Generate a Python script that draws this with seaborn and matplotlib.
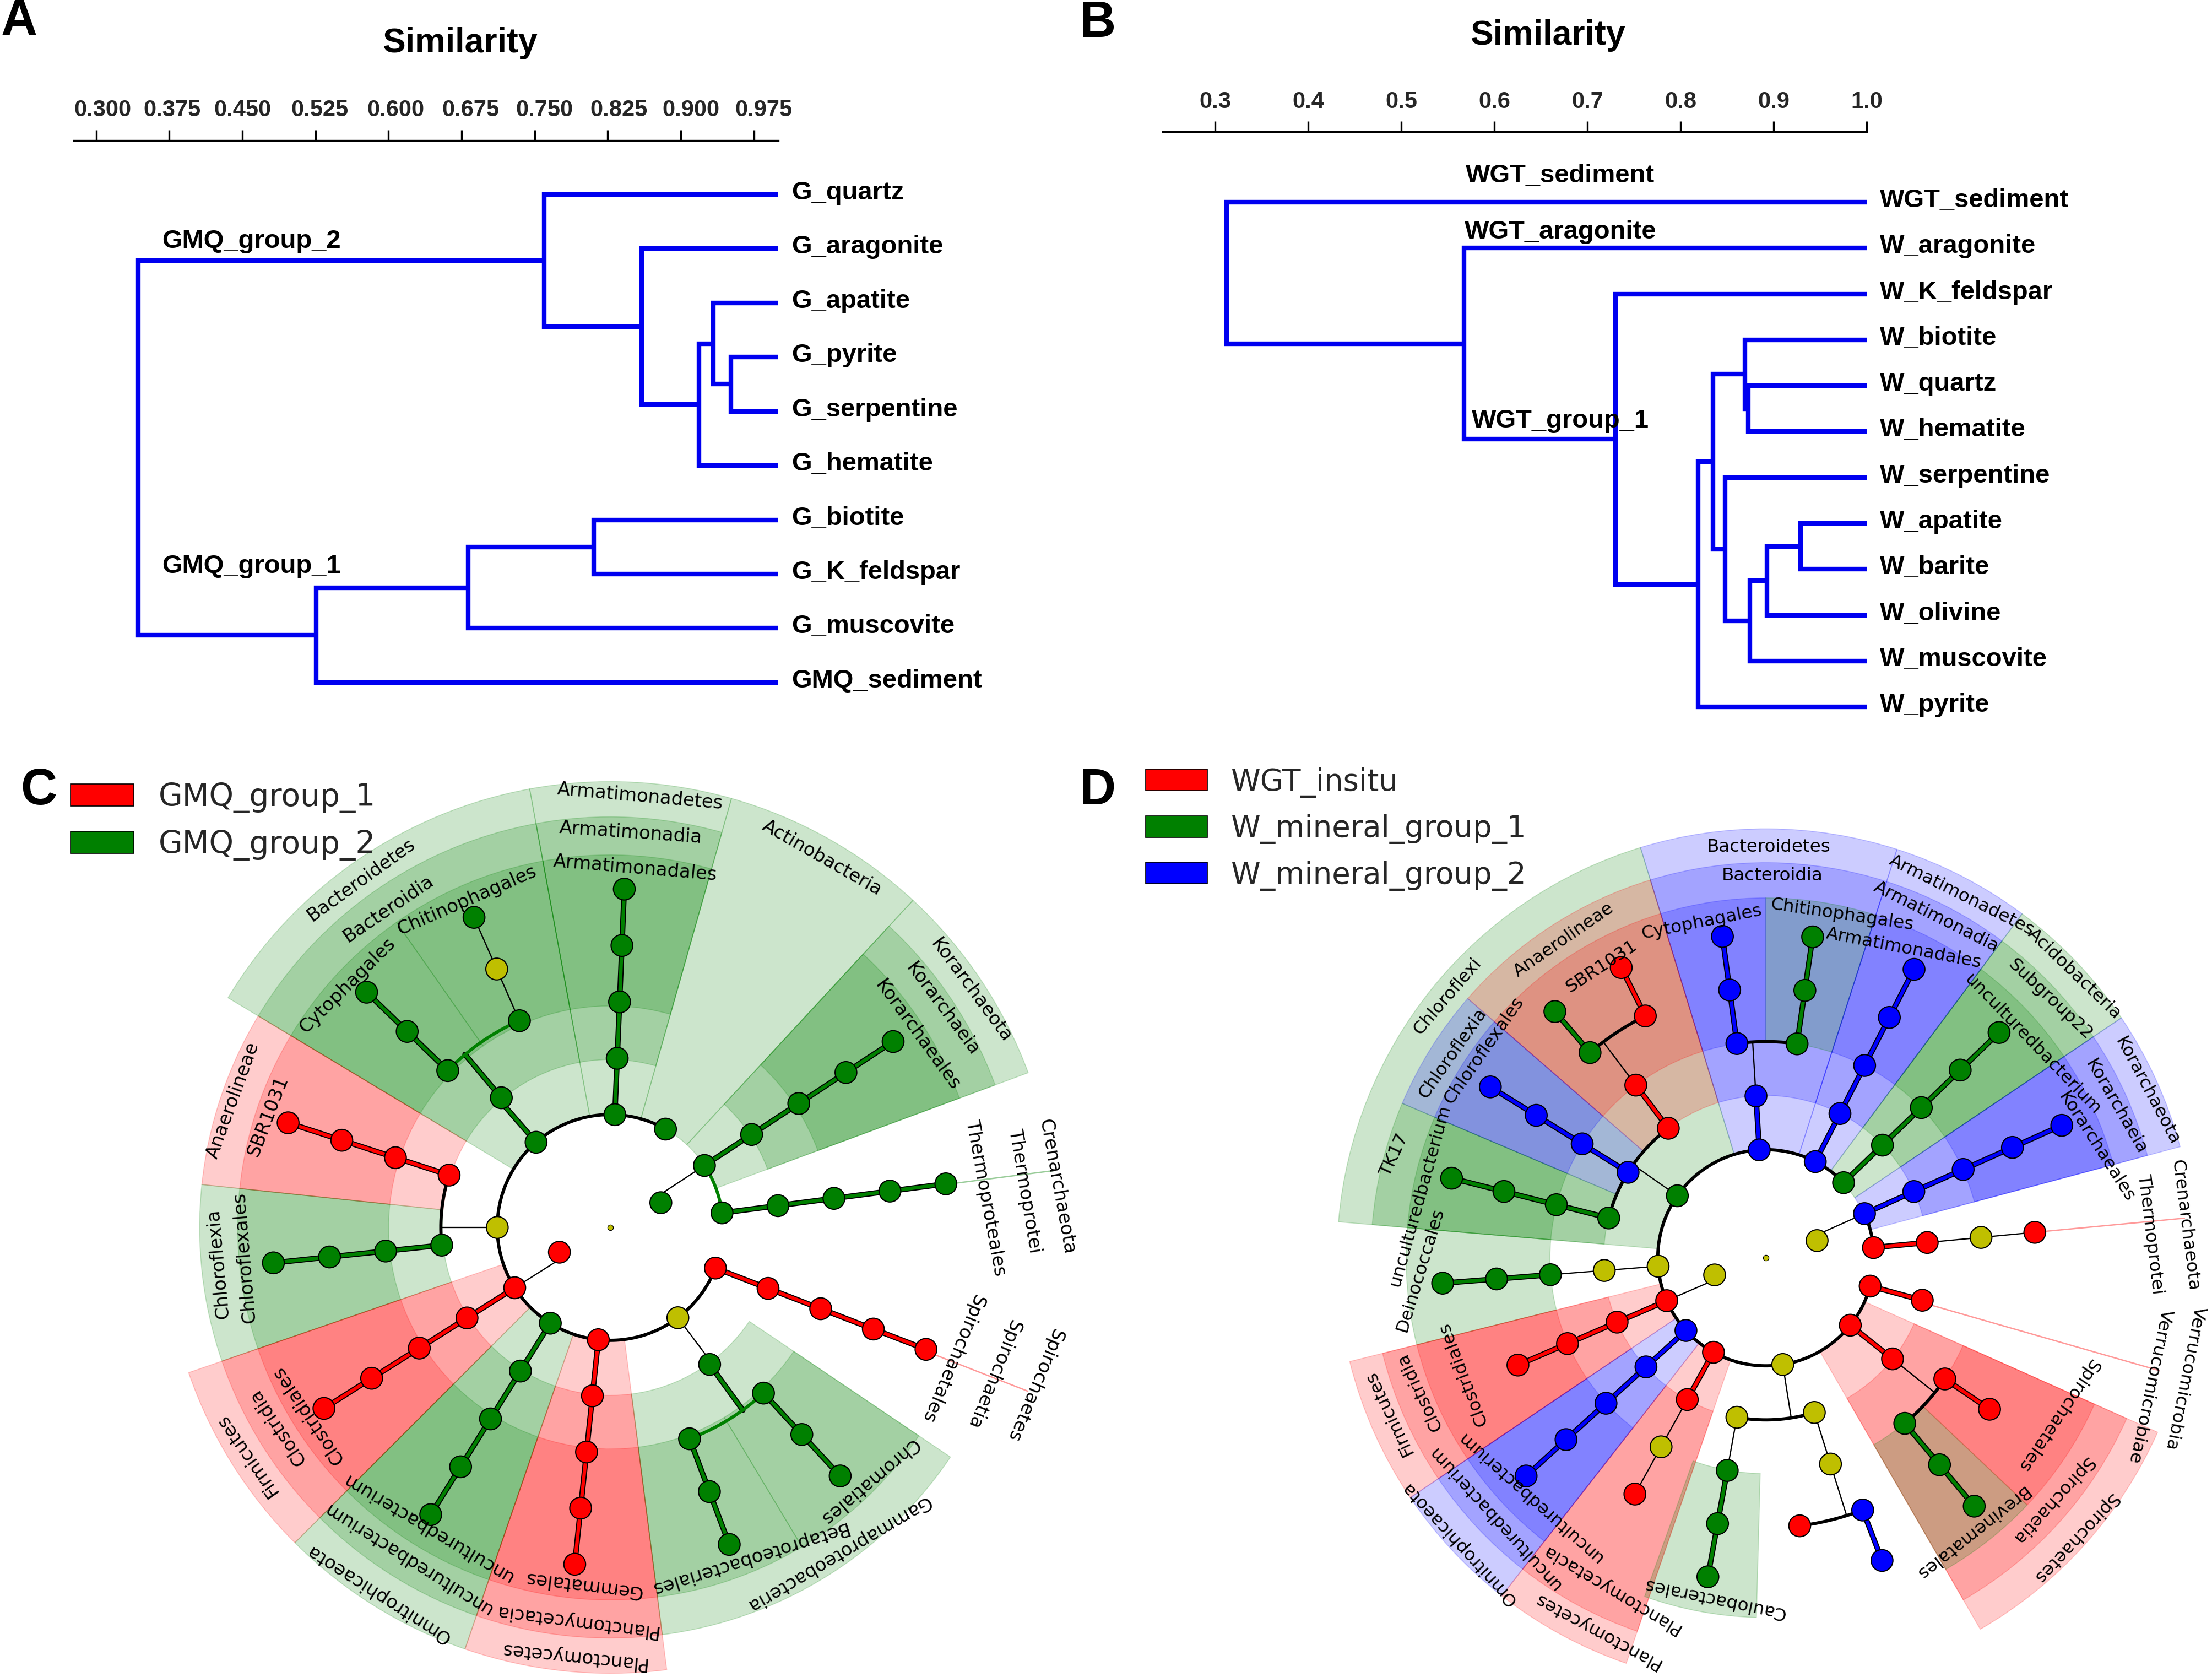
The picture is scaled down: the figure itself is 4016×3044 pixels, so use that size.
import numpy as np
import pandas as pd
import matplotlib
matplotlib.use("Agg")
import matplotlib.pyplot as plt
from matplotlib.patches import Patch
from matplotlib.transforms import ScaledTranslation
import seaborn as sns

W, H, DPI = 4016, 3044, 300
COL = {'r': '#FF0000', 'g': '#008000', 'b': '#0000FF', 'y': '#BFBF00'}

# ---------------- dendrogram data ----------------
A_TREE = (.3433,
          (.760, 'G_quartz',
           (.8596, 'G_aragonite',
            (.9187, (.9332, 'G_apatite', (.9512, 'G_pyrite', 'G_serpentine')), 'G_hematite'))),
          (.5257, (.6815, (.8106, 'G_biotite', 'G_K_feldspar'), 'G_muscovite'), 'GMQ_sediment'))
A_TICKS = [.3, .375, .45, .525, .6, .675, .75, .825, .9, .975]
A_TICK_LABELS = ['0.300', '0.375', '0.450', '0.525', '0.600', '0.675', '0.750', '0.825', '0.900', '0.975']
A_TICK_SHIFT = [11.5, 5, 0, 7.6, 12.8, 16.6, 18, 20.4, 18, 18]
A_GROUPS = ['GMQ_group_2', 'GMQ_group_1']

B_TREE = (.3124, 'WGT_sediment',
          (.567, 'W_aragonite',
           (.730, 'W_K_feldspar',
            (.819,
             (.8347,
              (.8688, 'W_biotite', (.8727, 'W_quartz', 'W_hematite')),
              (.848, 'W_serpentine',
               (.8743, (.893, (.9286, 'W_apatite', 'W_barite'), 'W_olivine'), 'W_muscovite'))),
             'W_pyrite'))))
B_TICKS = [.3, .4, .5, .6, .7, .8, .9, 1.0]
B_TICK_LABELS = ['0.3', '0.4', '0.5', '0.6', '0.7', '0.8', '0.9', '1.0']
B_GROUPS = ['WGT_sediment', 'WGT_aragonite', 'WGT_group_1']

# ---------------- cladogram C ----------------
# chain id, parent node, angle (deg), first level, node classes along the chain
C_CHAINS = [('root', None, 0, 0, 'y'), ('a', 'root0', 26, 1, 'g'), ('b', 'root0', 206, 1, 'r'),
            ('kor', 'a0', 33.3, 2, 'ggggg'), ('cre', 'a0', 7.4, 2, 'ggggg'),
            ('spi', 'b0', 338.9, 2, 'rrrrr'), ('act', 'b0', 60.6, 2, 'g'),
            ('arm', 'b0', 87.6, 2, 'ggggg'), ('bac', 'b0', 131, 2, 'g'), ('bc2', 'bac0', 130, 3, 'g'),
            ('cyt', 'bc20', 136, 4, 'ggg'), ('chi', 'bc20', 113.7, 4, 'gyg'),
            ('y1', 'b0', 180, 2, 'y'), ('sbr', 'y10', 162, 3, 'rrrr'), ('cfx', 'y10', 186, 3, 'gggg'),
            ('clo', 'b0', 212.3, 2, 'rrrrr'), ('omn', 'b0', 238, 2, 'ggggg'), ('pla', 'b0', 264, 2, 'rrrrr'),
            ('y2', 'b0', 306.9, 2, 'y'), ('gam', 'y20', 306, 3, 'g'),
            ('bet', 'gam0', 290.6, 4, 'ggg'), ('chr', 'gam0', 312.8, 4, 'ggg')]
C_PHYLUM = [(74.2, 100.4, 'g'), (47.2, 74.2, 'g'), (20.3, 47.2, 'g'), (100.4, 149, 'g'),
            (199, 225, 'r'), (225, 251, 'g'), (251, 277.3, 'r')]
C_CLASS = [(74.2, 100.4, 'g'), (100.4, 149, 'g'), (20.3, 47.2, 'g'), (149, 174, 'r'), (174, 199, 'g'),
           (199, 225, 'r'), (225, 251, 'g'), (251, 277.3, 'r'), (277.3, 326, 'g')]
C_ORDER = [(74.2, 100.4, 'g'), (20.3, 47.2, 'g'), (125, 149, 'g'), (100.4, 125, 'g'), (149, 174, 'r'),
           (174, 199, 'g'), (199, 225, 'r'), (225, 251, 'g'), (251, 277.3, 'r'), (277.3, 301, 'g'), (301, 326, 'g')]
C_SLIVERS = [(7.3, 240, 318, 'g'), (338.6, 240, 318, 'r')]
C_LABELS = ['Bacteroidetes', 'Bacteroidia', 'Chitinophagales', 'Cytophagales', 'Armatimonadetes', 'Armatimonadia',
            'Armatimonadales', 'Actinobacteria', 'Korarchaeota', 'Korarchaeia', 'Korarchaeales', 'Crenarchaeota',
            'Thermoprotei', 'Thermoproteales', 'Spirochaetes', 'Spirochaetia', 'Spirochaetales',
            'Gammaproteobacteria', 'Betaproteobacteriales', 'Chromatiales', 'Planctomycetes', 'Planctomycetacia',
            'Gemmatales', 'Omnitrophicaeota', 'unculturedbacterium', 'unculturedbacterium', 'Firmicutes',
            'Clostridia', 'Clostridiales', 'Chloroflexia', 'Chloroflexales', 'Anaerolineae', 'SBR1031']
C_LABEL_ANGLE = [125.6, 124.8, 113.7, 137.4, 86, 87, 86, 60.2, 33.3, 33.3, 32, 5.2, 5, 4.5, 339.6, 339, 339,
                 305, 292.7, 315.6, 265, 265, 265.7, 237.7, 238.5, 238.7, 212, 211, 211.9, 185.3, 184.7, 161.4, 162]
C_LABEL_RADIUS = [303, 275, 253, 253, 306, 280, 255, 302, 306, 282, 257, 318, 295, 267, 321, 291, 260,
                  282, 254, 257, 305, 280, 254, 307, 275, 249, 304, 275, 252, 279, 260, 282, 255]
C_LABEL_TILT = [35.8, 34.2, 23.5, 44.8, -5, -4, -4.8, -29.7, -53.6, -53.4, -54, -79.6, -80.4, -79.5, -112.5, -112,
                -112.6, 210.7, 197.6, 220.3, 174.2, 172.7, 173, 147.4, 147.8, 149, 124.6, 123.8, 124, 95.3, 94.7,
                69.9, 69]
C_LEGEND = ['GMQ_group_1', 'GMQ_group_2']

# ---------------- cladogram D ----------------
D_CHAINS = [('root', None, 0, 0, 'y'), ('a', 'root0', 18.5, 1, 'y'), ('b', 'root0', 198.5, 1, 'y'),
            ('kor', 'a0', 24.1, 2, 'bbbbb'), ('cre', 'a0', 5.4, 2, 'rryr'),
            ('aci', 'b0', 44, 2, 'ggggg'), ('arm', 'b0', 62.8, 2, 'bbbbb'),
            ('bac', 'b0', 93.5, 2, 'bb'), ('cyt', 'bac1', 97.7, 4, 'bbb'), ('chi', 'bac1', 81.7, 4, 'ggg'),
            ('cf', 'b0', 145, 2, 'g'), ('an', 'cf0', 127, 3, 'rr'), ('x1', 'an1', 130.6, 5, 'gg'),
            ('x2', 'an1', 116.5, 5, 'rr'), ('cl', 'cf0', 148.2, 3, 'bbbb'), ('tk', 'cf0', 165.8, 3, 'gggg'),
            ('de', 'b0', 184.5, 2, 'yyggg'), ('clo', 'b0', 203.4, 2, 'rrrr'), ('omn', 'b0', 222.3, 2, 'bbbbb'),
            ('pl', 'b0', 241, 2, 'rryr'), ('y3', 'b0', 279, 2, 'y'), ('cau', 'y30', 259.7, 3, 'yggg'),
            ('v', 'y30', 287.4, 3, 'yy'), ('rb', 'v1', 277.2, 5, 'r'), ('bl', 'v1', 291, 5, 'bb'),
            ('sp', 'b0', 321.4, 2, 'rr'), ('s1', 'sp1', 325.9, 4, 'rr'), ('s2', 'sp1', 310, 4, 'ggg'),
            ('ver', 'b0', 344.8, 2, 'rr')]
D_PHYLUM = [(72.2, 107, 'b'), (53.3, 72.2, 'b'), (34, 53.3, 'g'), (15, 34, 'b'), (107, 175.2, 'g'),
            (194, 214, 'r'), (214, 232, 'b'), (232, 251, 'r'), (300, 336, 'r')]
D_CLASS = [(72.2, 107, 'b'), (53.3, 72.2, 'b'), (34, 53.3, 'g'), (15, 34, 'b'), (107, 139, 'r'), (139, 157, 'b'),
           (157, 175.2, 'g'), (194, 214, 'r'), (214, 232, 'b'), (232, 251, 'r'), (300, 336, 'r')]
D_ORDER = [(90, 107, 'b'), (72.2, 90, 'g'), (53.3, 72.2, 'b'), (34, 53.3, 'g'), (15, 34, 'b'), (107, 139, 'r'),
           (139, 157, 'b'), (157, 175.2, 'g'), (175.2, 194, 'g'), (194, 214, 'r'), (214, 232, 'b'),
           (250.3, 268.5, 'g'), (300, 316.6, 'g'), (316.6, 336, 'r')]
D_SLIVERS = [(5.4, 191, 298, 'r'), (344, 115, 290, 'r')]
D_LABELS = ['Bacteroidetes', 'Bacteroidia', 'Cytophagales', 'Chitinophagales', 'Armatimonadales', 'Armatimonadia',
            'Armatimonadetes', 'Acidobacteria', 'Subgroup22', 'unculturedbacterium', 'Korarchaeota', 'Korarchaeia',
            'Korarchaeales', 'Crenarchaeota', 'Thermoprotei', 'Verrucomicrobia', 'Verrucomicrobiae', 'Spirochaetes',
            'Spirochaetia', 'Spirochaetales', 'Brevinematales', 'Caulobacterales', 'Planctomycetes', 'Planctomycetacia',
            'Omnitrophicaeota', 'unculturedbacterium', 'unculturedbacterium', 'Firmicutes', 'Clostridia',
            'Clostridiales', 'Deinococcales', 'unculturedbacterium', 'TK17', 'Chloroflexi', 'Chloroflexia',
            'Chloroflexales', 'Anaerolineae', 'SBR1031']
D_LABEL_ANGLE = [89.6, 89, 100.9, 77.5, 66, 63.4, 61.6, 42.6, 42.2, 38.6, 23.6, 23.3, 18.5, 4.4, 3.5, 344, 341.5,
                 317.8, 319.7, 331.6, 306.8, 261.4, 245.6, 244.9, 223, 223.8, 225.4, 202.3, 201.2, 201, 182, 169.8,
                 164.6, 140.7, 146.9, 143.7, 122.5, 119.4]
D_LABEL_RADIUS = [291, 271, 242, 249, 240, 270, 292, 297, 272, 242, 295, 270, 247, 298, 273, 309, 287, 296, 266, 235,
                  243, 244, 290, 259, 297, 266, 238, 289, 263, 230, 245, 249, 273, 292, 265, 248, 267, 237]
D_LABEL_TILT = [0, 0, 11.2, -8.3, -10.8, -26.7, -26.6, -43.8, -43.4, -46, -62, -60, -57.4, -82.7, -83, -101.4, -102,
                -133, -132.4, -124, -141.6, 168.1, 151.4, 149, 132.6, 132.3, 138.3, 115.5, 115.4, 111, 73.1, 74.3,
                65, 49.5, 55, 55, 34.6, 33.4]
D_LEGEND = ['WGT_insitu', 'W_mineral_group_1', 'W_mineral_group_2']

sns.set_theme(style="white")
plt.rcParams['font.family'] = ['DejaVu Sans']
fig = plt.figure(figsize=(W / DPI, H / DPI), dpi=DPI, facecolor='white')
BOLD = dict(family='Liberation Sans', fontweight='bold', color='black')


def px_axes(l, t, r, b, **kw):
    return fig.add_axes([l / W, 1 - b / H, (r - l) / W, (b - t) / H], **kw)


def ftext(x, y, s, **kw):
    fig.text(x / W, 1 - y / H, s, va='center', **kw)


def dendro(tree):
    segs, leaves = [], []

    def walk(n):
        if isinstance(n, str):
            leaves.append(n)
            return 1.0, len(leaves) - 1.0
        x, l, r = n
        lx, ly = walk(l)
        rx, ry = walk(r)
        segs.append([(lx, ly), (x, ly), (x, ry), (rx, ry)])
        return x, (ly + ry) / 2
    walk(tree)
    rows = [dict(seg=i, x=p[0], y=p[1], o=j) for i, s in enumerate(segs) for j, p in enumerate(s)]
    return pd.DataFrame(rows), leaves


def panel_dendro(tree, box, xlim, ylim, ticks, labels, shift, ts, leaf_x):
    ax = px_axes(*box)
    df, leaves = dendro(tree)
    sns.lineplot(data=df, x='x', y='y', units='seg', estimator=None, sort=False, color='#0000F0',
                 lw=2.0, ax=ax, legend=False, solid_joinstyle='miter', solid_capstyle='butt')
    ax.set_xlim(*xlim)
    ax.set_ylim(*ylim)
    ax.set_xlabel('')
    ax.set_ylabel('')
    ax.set_yticks([])
    ax.xaxis.tick_top()
    ax.set_xticks(ticks)
    ax.set_xticklabels(labels, fontsize=ts, fontfamily='Liberation Sans', fontweight='bold')
    ax.tick_params(axis='x', direction='out', length=4.6, width=.8, pad=3.6, color='black', top=True, bottom=False)
    for lb, dx in zip(ax.get_xticklabels(), shift):
        lb.set_transform(lb.get_transform() + ScaledTranslation(dx / DPI, 0, fig.dpi_scale_trans))
    for k, s in ax.spines.items():
        s.set_visible(k == 'top')
    ax.spines['top'].set_linewidth(.8)
    ax.spines['top'].set_color('black')
    ax.patch.set_alpha(0)
    for i, n in enumerate(leaves):
        ax.annotate(n, (1.0, i), xytext=(leaf_x, 3), textcoords='offset pixels', va='center',
                    fontsize=11.3, annotation_clip=False, **BOLD)


def cladogram(cx, cy, step, chains, phy, cla, ord_, radii, slivers, names, ang, rad, tilt, fs):
    rmax = 345
    scale = 2.5612
    ax = fig.add_axes([(cx - rmax * scale) / W, 1 - (cy + rmax * scale) / H, 2 * rmax * scale / W,
                       2 * rmax * scale / H], projection='polar')
    for ring, secs in zip(radii, (phy, cla, ord_)):
        for a0, a1, c in secs:
            ax.bar(np.radians((a0 + a1) / 2), ring[1] - ring[0], width=np.radians(a1 - a0), bottom=ring[0],
                   color=COL[c], alpha=.2, edgecolor=COL[c], linewidth=.4, zorder=1)
    for a, r0, r1, c in slivers:
        ax.plot(np.radians([a, a]), [r0, r1], color=COL[c], alpha=.4, lw=.6, zorder=1.5)
    # nodes
    nodes = {}
    for cid, parent, a, lev, cols in chains:
        prev = parent
        for i, c in enumerate(cols):
            nid = f'{cid}{i}'
            nodes[nid] = dict(p=prev, a=a, r=(lev + i) * step, c=c)
            prev = nid
    kids = {}
    for nid, n in nodes.items():
        if n['p']:
            kids.setdefault(n['p'], []).append(n)

    def line(a, r, col, lw, z=2):
        ax.plot(np.radians(a), r, color=col, lw=lw, zorder=z, solid_capstyle='round')

    for pid, ch in kids.items():
        p = nodes[pid]
        if p['r'] == 0:
            continue
        cs = {k['c'] for k in ch}
        same = len(cs) == 1 and cs != {'y'}
        r1 = ch[0]['r']
        ca = [k['a'] for k in ch]
        lo, hi = min(ca + [p['a']]), max(ca + [p['a']])
        base = p['a']
        if p['r'] <= step:
            base = min(ca, key=lambda v: abs(v - p['a']))
        if same and p['c'] != 'y' and p['r'] > step:
            c = COL[ch[0]['c']]
            line([base, base], [p['r'], r1], 'black', 2.4, 2)
            line([base, base], [p['r'], r1], c, 1.5, 2.1)
        else:
            line([base, base], [p['r'], r1], 'black', .55, 2)
        if hi - lo > .01 and len(ch) + (p['a'] not in ca) > 1:
            if len(ch) == 1 and not same:
                continue
            th = np.linspace(min(ca) if len(ch) > 1 else lo, max(ca) if len(ch) > 1 else hi, 200)
            if len(ch) > 1 or same:
                line(th, np.full_like(th, r1), COL[ch[0]['c']] if same else 'black', 1.4, 2.2)
    df = pd.DataFrame(nodes).T
    df['theta'] = np.radians(df['a'].astype(float))
    df['r'] = df['r'].astype(float)
    big = df[df['r'] > 0]
    sns.scatterplot(data=big, x='theta', y='r', hue='c', palette=COL, s=90, edgecolor='black', linewidth=.5,
                    ax=ax, legend=False, zorder=3, clip_on=False)
    sns.scatterplot(data=df[df['r'] == 0], x='theta', y='r', color=COL['y'], s=6, edgecolor='black', linewidth=.3,
                    ax=ax, legend=False, zorder=3, clip_on=False)
    for s, a, r, t in zip(names, ang, rad, tilt):
        ax.text(np.radians(a), r, s, rotation=t, rotation_mode='anchor', ha='center', va='center',
                fontsize=fs, color='black', zorder=4)
    ax.set_ylim(0, rmax)
    ax.set_axis_off()


# ---- A
panel_dendro(A_TREE, (134, 254.6, 1413, 1290), (.277, 1.0), (9.52, -1.0), A_TICKS, A_TICK_LABELS, A_TICK_SHIFT, 10, 24)
ftext(835, 78, 'Similarity', ha='center', fontsize=15, **BOLD)
ftext(2, 40, 'A', ha='left', fontsize=22, **BOLD)
ftext(294, 438, A_GROUPS[0], fontsize=11.3, **BOLD)
ftext(294, 1028, A_GROUPS[1], fontsize=11.3, **BOLD)
# ---- B
panel_dendro(B_TREE, (2110.8, 239, 3389.3, 1310), (.2434, 1.0), (11.32, -1.536), B_TICKS, B_TICK_LABELS,
             [0] * 8, 10, 24)
ftext(2810, 64, 'Similarity', ha='center', fontsize=15, **BOLD)
ftext(1960, 43, 'B', ha='left', fontsize=22, **BOLD)
ftext(2661, 319, B_GROUPS[0], fontsize=11.3, **BOLD)
ftext(2659, 421, B_GROUPS[1], fontsize=11.3, **BOLD)
ftext(2672, 764, B_GROUPS[2], fontsize=11.3, **BOLD)
# ---- C
cladogram(1107.7, 2228, 40, C_CHAINS, C_PHYLUM, C_CLASS, C_ORDER,
          [(80, 316), (119, 291), (157, 264)], C_SLIVERS, C_LABELS, C_LABEL_ANGLE, C_LABEL_RADIUS, C_LABEL_TILT, 8.1)
ftext(70, 1436, 'C', ha='center', fontsize=22, **BOLD)
fig.legend([Patch(fc=COL['r'], ec='black', lw=.4), Patch(fc=COL['g'], ec='black', lw=.4)], C_LEGEND,
           loc='upper left', bbox_to_anchor=(128 / W, 1 - 1420 / H), frameon=False, fontsize=13.6,
           handlelength=2.03, handleheight=.7, handletextpad=.8, labelspacing=.53, borderpad=0, borderaxespad=0)
# ---- D
cladogram(3206, 2283, 38.3, D_CHAINS, D_PHYLUM, D_CLASS, D_ORDER,
          [(76, 304), (115, 280), (153, 255)], D_SLIVERS, D_LABELS, D_LABEL_ANGLE, D_LABEL_RADIUS, D_LABEL_TILT, 7.8)
ftext(1993, 1436, 'D', ha='center', fontsize=22, **BOLD)
fig.legend([Patch(fc=COL[c], ec='black', lw=.4) for c in 'rgb'], D_LEGEND,
           loc='upper left', bbox_to_anchor=(2080 / W, 1 - 1393 / H), frameon=False, fontsize=13.1,
           handlelength=2.05, handleheight=.72, handletextpad=.78, labelspacing=.54, borderpad=0, borderaxespad=0)

fig.savefig('out.png', dpi=DPI, facecolor='white')
